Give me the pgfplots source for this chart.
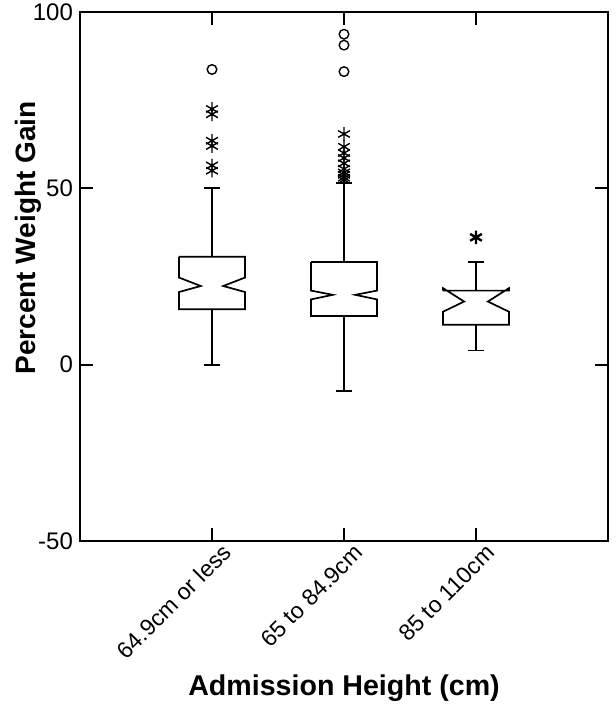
\documentclass[border=0pt]{standalone}
\usepackage{fontspec}
\setmainfont{Liberation Sans}
\usepackage{pgfplots}
\pgfplotsset{compat=1.18}
\begin{document}
\begin{tikzpicture}
\begin{axis}[
    scale only axis, width=264pt, height=264.5pt,
    xmin=0, xmax=4, ymin=-50, ymax=100,
    xtick={1,2,3},
    xticklabels={64.9cm or less, 65 to 84.9cm, 85 to 110cm},
    ytick={-50,0,50,100},
    tick align=inside, major tick length=6.5pt,
    axis line style={line width=1pt},
    tick style={line width=0.9pt, black},
    /pgf/number format/assume math mode=true,
    yticklabel style={font=\fontsize{12}{14}\selectfont},
    xticklabel style={font=\fontsize{11.5}{13}\selectfont, rotate=45, anchor=east,
        xshift=6pt, yshift=-8pt},
    xlabel={Admission Height (cm)},
    ylabel={Percent Weight Gain},
    xlabel style={at={(axis description cs:0.5,-0.278)}, anchor=center,
        font=\bfseries\fontsize{14.3}{16}\selectfont},
    ylabel style={at={(axis description cs:-0.098,0.573)}, anchor=center,
        font=\bfseries\fontsize{14}{16}\selectfont},
    bx/.style={black, line width=0.85pt, mark=none},
    star/.style={only marks, mark=asterisk, mark size=3.4pt, black, line width=0.7pt},
    circ/.style={only marks, mark=o, mark size=2.4pt, black, line width=0.7pt},
]
% 64.9cm or less
\addplot[bx] coordinates {(0.75,30.6) (0.75,24.7) (0.915,22.3) (0.75,20.6) (0.75,15.7)
    (1.25,15.7) (1.25,20.6) (1.085,22.3) (1.25,24.7) (1.25,30.6) (0.75,30.6)};
\addplot[bx] coordinates {(1,30.6) (1,50)};
\addplot[bx] coordinates {(0.943,50) (1.057,50)};
\addplot[bx] coordinates {(1,15.7) (1,0)};
\addplot[bx] coordinates {(0.943,0) (1.057,0)};
\addplot[star] coordinates {(1,72.5) (1,71) (1,63.5) (1,62) (1,56.5) (1,55)};
\addplot[circ] coordinates {(1,83.7)};
% 65 to 84.9cm
\addplot[bx] coordinates {(1.75,29.1) (1.75,21.0) (1.915,19.8) (1.75,18.5) (1.75,13.8)
    (2.25,13.8) (2.25,18.5) (2.085,19.8) (2.25,21.0) (2.25,29.1) (1.75,29.1)};
\addplot[bx] coordinates {(2,29.1) (2,51.5)};
\addplot[bx] coordinates {(1.943,51.5) (2.057,51.5)};
\addplot[bx] coordinates {(2,13.8) (2,-7.4)};
\addplot[bx] coordinates {(1.943,-7.4) (2.057,-7.4)};
\addplot[star] coordinates {(2,65.4) (2,61.8) (2,60) (2,58.6) (2,57.1) (2,55.5)
    (2,54.5) (2,53.8) (2,53) (2,52.4)};
\addplot[circ] coordinates {(2,93.7) (2,90.6) (2,83.1)};
% 85 to 110cm
\addplot[bx] coordinates {(2.75,21.0) (2.75,21.7) (2.91,17.9) (2.75,15.0) (2.75,11.3)
    (3.25,11.3) (3.25,15.0) (3.09,17.9) (3.25,21.7) (3.25,21.0) (2.75,21.0)};
\addplot[bx] coordinates {(3,21.0) (3,29.2)};
\addplot[bx] coordinates {(2.943,29.2) (3.057,29.2)};
\addplot[bx] coordinates {(3,11.3) (3,4.0)};
\addplot[bx] coordinates {(2.943,4.0) (3.057,4.0)};
\addplot[star, line width=1.2pt] coordinates {(3,36.1)};
\end{axis}
\pgfresetboundingbox
\useasboundingbox (-40pt,-84.5pt) rectangle (267.5pt,270.5pt);
\end{tikzpicture}
\end{document}
